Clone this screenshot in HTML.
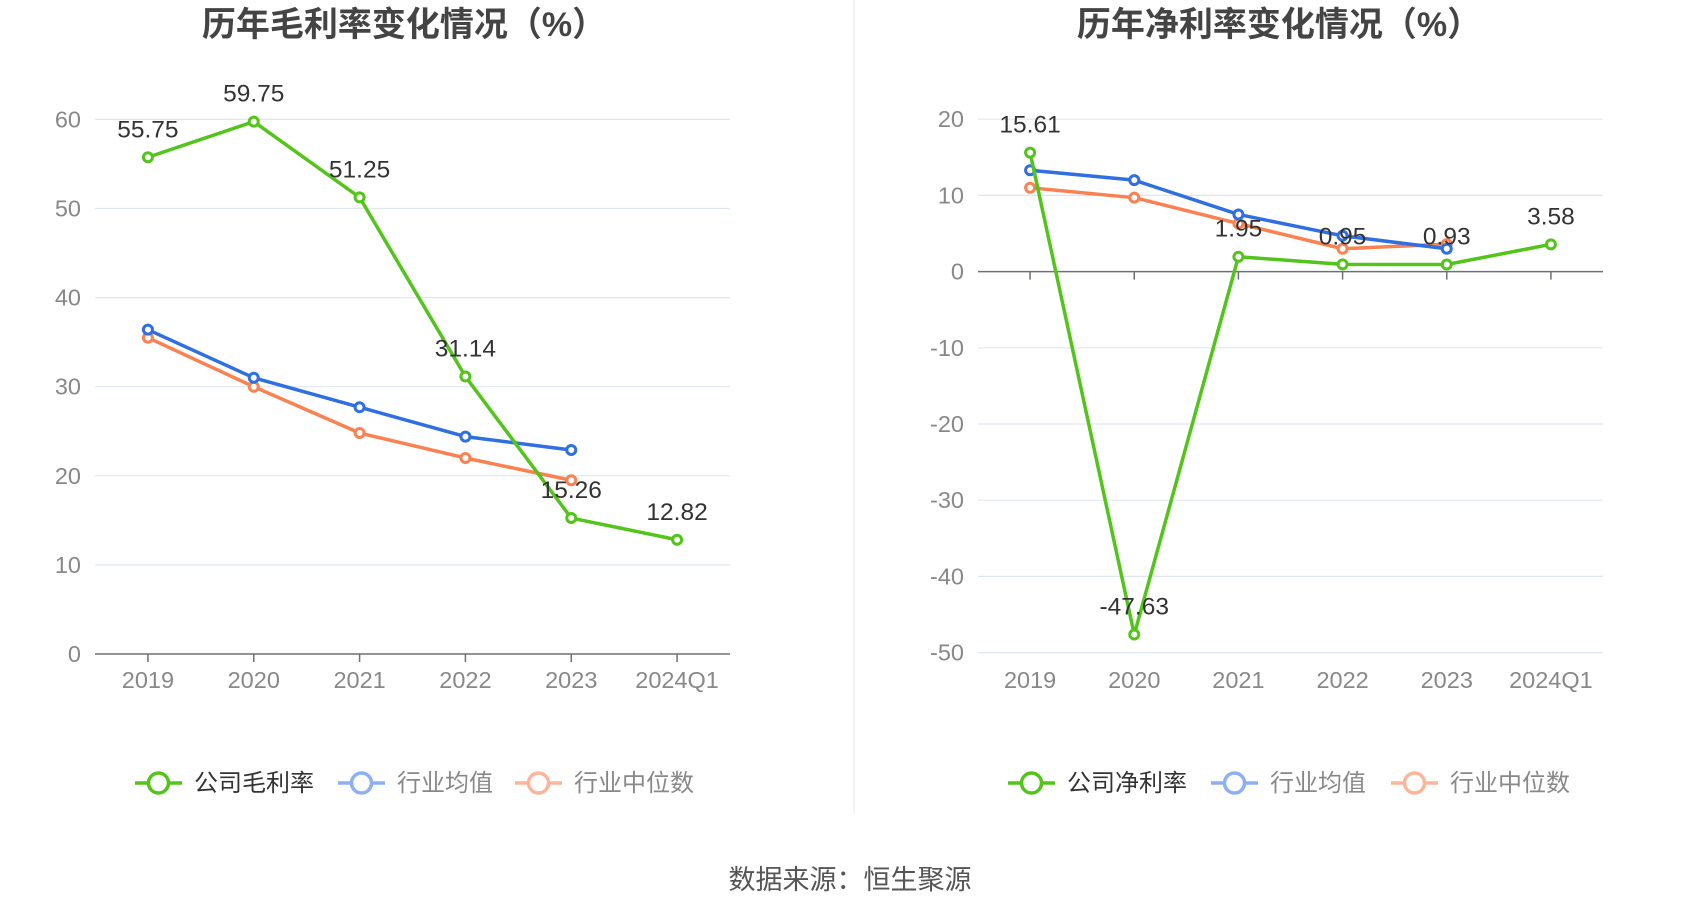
<!DOCTYPE html>
<html><head><meta charset="utf-8"><style>
body{margin:0;width:1700px;height:918px;background:#fff;overflow:hidden;font-family:"Liberation Sans","Noto Sans CJK SC",sans-serif}
svg{position:absolute;left:0;top:0}
</style></head><body>
<svg id="c" width="1700" height="918"></svg>
<script>
const categories=["2019","2020","2021","2022","2023","2024Q1"];
const grossCompany=[55.75,59.75,51.25,31.14,15.26,12.82];
const grossAvg=[36.4,31.0,27.7,24.4,22.9];
const grossMedian=[35.5,30.0,24.8,22.0,19.5];
const grossTicks=[0,10,20,30,40,50,60];
const netCompany=[15.61,-47.63,1.95,0.95,0.93,3.58];
const netAvg=[13.3,12.0,7.5,4.7,3.0];
const netMedian=[11.0,9.7,6.3,3.0,3.6];
const netTicks=[-50,-40,-30,-20,-10,0,10,20];

const NS="http://www.w3.org/2000/svg";
const svg=document.getElementById('c');
function mk(tag,attrs,parent){const e=document.createElementNS(NS,tag);for(const k in attrs)e.setAttribute(k,attrs[k]);(parent||svg).appendChild(e);return e;}
function txt(s,attrs,parent){const e=mk('text',attrs,parent);e.textContent=s;return e;}

function chart(cfg){
  const g=mk('g',{});
  
  
  const x0=cfg.x0,x1=cfg.x1,bw=(x1-x0)/categories.length;
  const xs=i=>x0+bw*(i+0.5);
  const ys=v=>cfg.yZero-(v)*cfg.pxPer;
  cfg.ticks.forEach(t=>{
    if(t!==0){const l=mk('line',{x1:x0,x2:x1,y1:ys(t),y2:ys(t),stroke:'#e0e6f1','stroke-width':1.2},g);
    }
    const tl=txt(String(t),{x:x0-14,y:ys(t)+8,'text-anchor':'end','font-size':23.5,fill:'#888'},g);
    
  });
  const ax=mk('line',{x1:x0,x2:x1,y1:ys(0),y2:ys(0),stroke:'#6e7079','stroke-width':1.5},g);
  
  categories.forEach((c,i)=>{
    mk('line',{x1:xs(i),x2:xs(i),y1:ys(0),y2:ys(0)+8,stroke:'#6e7079','stroke-width':1.5},g);
    const cl=txt(c,{x:xs(i),y:688,'text-anchor':'middle','font-size':23.5,fill:'#888'},g);
    
  });
  const series=[[cfg.median,'#fa8252','median-line'],[cfg.avg,'#2f6fe0','average-line'],[cfg.company,'#52c41a','company-line']];
  series.forEach(([d,col,nm])=>{
    const p=mk('polyline',{points:d.map((v,i)=>xs(i)+','+ys(v)).join(' '),fill:'none',stroke:col,'stroke-width':3.5,'stroke-linejoin':'round'},g);
    
    d.forEach((v,i)=>{const c=mk('circle',{cx:xs(i),cy:ys(v),r:4.5,fill:'#fff',stroke:col,'stroke-width':3},g);
      });
  });
  cfg.company.forEach((v,i)=>{
    const t=txt(v.toFixed(2),{x:xs(i),y:ys(v)-20,'text-anchor':'middle','font-size':24.5,fill:'#333'},g);
    
  });
  const tt=txt(cfg.title,{x:cfg.tx,y:36,'text-anchor':'middle','font-size':34,'font-weight':'bold',fill:'#444'},g);
  
  const leg=[[cfg.l1,'#52c41a','#333',cfg.lx[0]],['行业均值','#8cb0f0','#888',cfg.lx[1]],['行业中位数','#fcb598','#888',cfg.lx[2]]];
  leg.forEach(([s,col,tc,lx])=>{
    const lg=mk('g',{},g);
    
    mk('line',{x1:lx,x2:lx+47,y1:783,y2:783,stroke:col,'stroke-width':3.5},lg);
    mk('circle',{cx:lx+23.5,cy:783,r:10,fill:'#fff',stroke:col,'stroke-width':3.5},lg);
    txt(s,{x:lx+59,y:791,'font-size':24,fill:tc},lg);
  });
}
chart({name:'gross-margin-chart',x0:95,x1:730,yZero:654,pxPer:8.91,ticks:grossTicks,company:grossCompany,avg:grossAvg,median:grossMedian,title:'历年毛利率变化情况（%）',tx:404,l1:'公司毛利率',lx:[135,338,515]});
chart({name:'net-margin-chart',x0:978,x1:1603,yZero:271.6,pxPer:7.62,ticks:netTicks,company:netCompany,avg:netAvg,median:netMedian,title:'历年净利率变化情况（%）',tx:1279,l1:'公司净利率',lx:[1008,1211,1391]});
const dv=mk('line',{x1:854,x2:854,y1:0,y2:813,stroke:'#eee','stroke-width':1.5});

const src=txt('数据来源：恒生聚源',{x:850,y:889,'text-anchor':'middle','font-size':27,fill:'#555'});

</script>
</body></html>
